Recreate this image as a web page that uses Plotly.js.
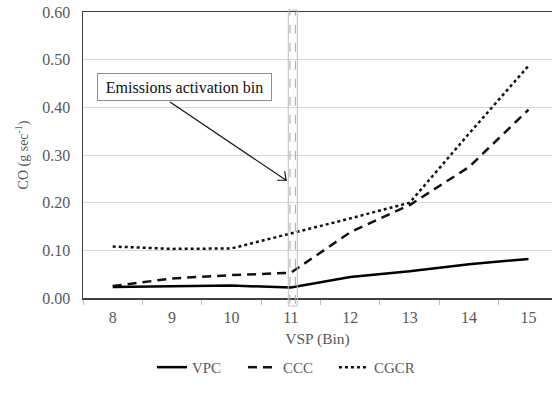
<!DOCTYPE html>
<html>
<head>
<meta charset="utf-8">
<script src="https://cdn.plot.ly/plotly-3.0.1.min.js"></script>
<style>
  html, body { margin: 0; padding: 0; background: #fff; }
  #chart { width: 552px; height: 393px; }
</style>
</head>
<body>
<div id="chart"></div>
<script>
// VSP bins and CO emission rates (g/s) for each vehicle type
const vspBins = [8, 9, 10, 11, 12, 13, 14, 15];
const vpc  = [0.023, 0.025, 0.026, 0.022, 0.044, 0.056, 0.071, 0.082];
const ccc  = [0.025, 0.041, 0.048, 0.053, 0.138, 0.195, 0.275, 0.395];
const cgcr = [0.108, 0.103, 0.104, 0.135, 0.167, 0.200, 0.345, 0.487];
const yTicks = [0, 0.1, 0.2, 0.3, 0.4, 0.5, 0.6];
const activationBin = 11;

const serif = 'Liberation Serif';
const grey = '#595959';

const traces = [
  { x: vspBins, y: vpc,  name: 'VPC',  mode: 'lines', line: { color: '#000', width: 2.5, dash: 'solid' } },
  { x: vspBins, y: ccc,  name: 'CCC',  mode: 'lines', line: { color: '#111', width: 2.5, dash: '9px,6px' } },
  { x: vspBins, y: cgcr, name: 'CGCR', mode: 'lines', line: { color: '#111', width: 2.5, dash: 'dot' } }
];

// pixel-per-unit helpers for the arrow drawn over the plot
const xPerPx = 1 / 59.4, yPerPx = 0.1 / 47.6;
const tipX = activationBin - 0.08, tipY = 0.247;

const layout = {
  width: 552, height: 393,
  margin: { l: 83, r: 0, t: 12, b: 95 },
  paper_bgcolor: '#fff', plot_bgcolor: '#fff',
  font: { family: serif, size: 15, color: grey },
  showlegend: true,
  legend: {
    orientation: 'h', x: 0.147, xanchor: 'left', y: -0.185, yanchor: 'top',
    font: { family: serif, size: 15, color: grey },
    entrywidth: 46, tracegroupgap: 0
  },
  xaxis: {
    range: [7.5, 15.396],
    tickvals: vspBins, ticktext: vspBins.map(String),
    ticks: '', showgrid: false, zeroline: false, ticklabelstandoff: 4,
    showline: true, linecolor: '#404040', linewidth: 1.5, mirror: true,
    tickfont: { family: serif, size: 16, color: grey },
    minor: { tickvals: [7.5, 8.5, 9.5, 10.5, 11.5, 12.5, 13.5, 14.5, 15.5], ticks: 'outside', ticklen: 5, tickcolor: '#bfbfbf', showgrid: false },
    title: { text: 'VSP (Bin)', font: { family: serif, size: 15.5, color: grey }, standoff: 8 }
  },
  yaxis: {
    range: [0, 0.6],
    tickvals: yTicks, ticktext: yTicks.map(v => v.toFixed(2)),
    ticks: '', showgrid: true, gridcolor: '#d9d9d9', gridwidth: 1, zeroline: false, ticklabelstandoff: 8,
    showline: true, linecolor: '#404040', linewidth: 1.5,
    tickfont: { family: serif, size: 16, color: grey },
    title: { text: 'CO (g sec<sup>-1</sup>)', font: { family: serif, size: 14, color: grey }, standoff: 10 }
  },
  shapes: [
    // emissions activation bin marker
    { type: 'rect', xref: 'x', yref: 'paper', x0: activationBin - 0.044, x1: activationBin + 0.108,
      y0: -0.028, y1: 1.007, line: { color: '#bfbfbf', width: 1 }, fillcolor: 'rgba(0,0,0,0)' },
    { type: 'line', xref: 'x', yref: 'paper', x0: activationBin - 0.015, x1: activationBin - 0.015,
      y0: -0.02, y1: 1.0, line: { color: '#a6a6a6', width: 1, dash: 'dash' } },
    { type: 'line', xref: 'x', yref: 'paper', x0: activationBin + 0.075, x1: activationBin + 0.075,
      y0: -0.02, y1: 1.0, line: { color: '#a6a6a6', width: 1, dash: 'dash' } },
    // arrow from the label to the bin
    { type: 'line', xref: 'x', yref: 'y', x0: 8.965, y0: 0.411, x1: tipX, y1: tipY,
      line: { color: '#111', width: 1.2 } },
    { type: 'path', xref: 'x', yref: 'y',
      path: `M ${tipX - 9 * xPerPx} ${tipY} L ${tipX} ${tipY} L ${tipX - 1.5 * xPerPx} ${tipY + 9 * yPerPx}`,
      line: { color: '#111', width: 1.2 } }
  ],
  annotations: [
    { xref: 'paper', yref: 'paper', x: (184 - 83) / 469, y: (298 - 87) / 286,
      xanchor: 'center', yanchor: 'middle',
      text: 'Emissions activation bin', showarrow: false,
      font: { family: serif, size: 16, color: '#111' },
      bordercolor: '#8c8c8c', borderwidth: 1, borderpad: 5, bgcolor: '#fff',
      width: 163, height: 16 }
  ]
};

Plotly.newPlot('chart', traces, layout, { displayModeBar: false, staticPlot: true });
</script>
</body>
</html>
